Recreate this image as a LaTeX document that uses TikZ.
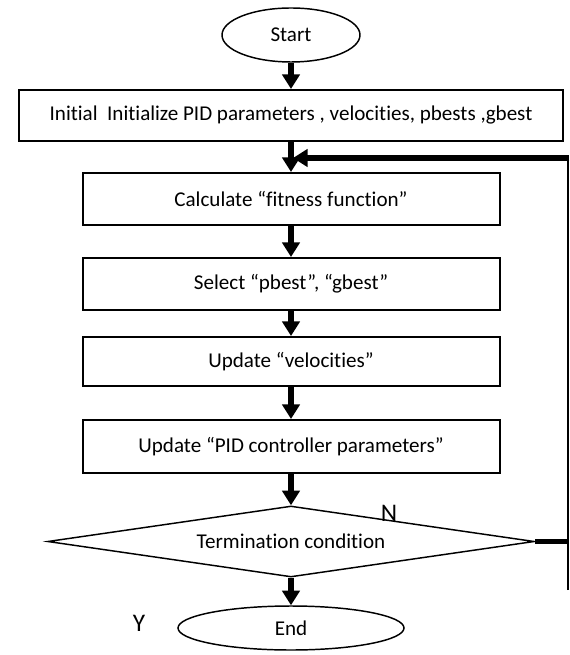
\documentclass[tikz,border=0pt]{standalone}
\usepackage{fontspec}
\setmainfont{Carlito}[Ligatures=NoCommon]
\usetikzlibrary{shapes.geometric,arrows.meta}
\begin{document}
\begin{tikzpicture}[x=0.75pt,y=-0.75pt,
  txt/.style={font=\fontsize{15.8}{18}\selectfont},
  box/.style={draw,line width=1.5pt,rectangle,inner sep=0pt,txt},
  oval/.style={draw,line width=1.1pt,ellipse,inner sep=0pt},
  decision/.style={draw,line width=1.1pt,diamond,inner sep=0pt,shape aspect=6.83,txt},
  flow/.style={line width=3.8pt,-{Triangle[width=13pt,length=11pt]}},
  back/.style={line width=3.8pt},
  lbl/.style={font=\fontsize{19}{22}\selectfont,inner sep=0pt}]
\useasboundingbox (0,0) rectangle (569,655);
\node[oval,txt,minimum width=103.5pt,minimum height=40.5pt] (start) at (291,35) {\raisebox{-2pt}{Start}};
\node[box,minimum width=408pt,minimum height=38.25pt] (init) at (291,115.5) {Initial\ \ Initialize PID parameters , velocities, pbests ,gbest};
\node[box,minimum width=312.75pt,minimum height=39pt] (fit) at (291,199) {Calculate “fitness function”};
\node[box,minimum width=312.75pt,minimum height=39pt] (sel) at (291,284) {Select “pbest”, “gbest”};
\node[box,minimum width=312.75pt,minimum height=36.75pt] (vel) at (291,361.5) {Update “velocities”};
\node[box,minimum width=312.75pt,minimum height=39.75pt] (pid) at (291,446.5) {Update “PID controller parameters”};
\node[decision,minimum width=365pt,minimum height=53.25pt] (term) at (291,541.5) {Termination condition};
\node[oval,txt,minimum width=169.5pt,minimum height=33pt] (end) at (291,628) {\raisebox{-3pt}{End}};
\node[lbl] (n) at (389,513) {N};
\node[lbl] (y) at (139,623) {Y};
\coordinate (c1) at (568,541.5);
\coordinate (c2) at (568,158);
\coordinate (c3) at (568,590);
\coordinate (j) at (293,158);
\draw[flow] (start.south) -- (init.north);
\draw[flow] (init.south) -- (fit.north);
\draw[flow] (fit.south) -- (sel.north);
\draw[flow] (sel.south) -- (vel.north);
\draw[flow] (vel.south) -- (pid.north);
\draw[flow] (pid.south) -- (term.north);
\draw[flow] (term.south) -- (end.north);
\draw[back] (term.east) -- (c1);
\draw[line width=2pt] (c3) -- ([yshift=-1.4pt]c2);
\draw[flow] ([xshift=1pt]c2) -- (j);
\end{tikzpicture}
\end{document}
